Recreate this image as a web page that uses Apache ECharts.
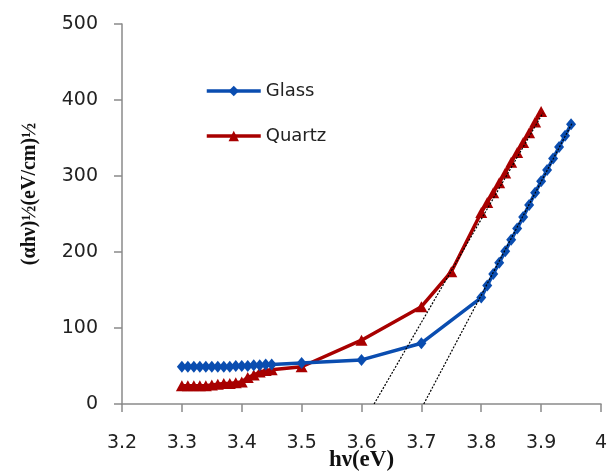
<!DOCTYPE html>
<html><head><meta charset="utf-8">
<script src="https://cdn.jsdelivr.net/npm/echarts@6/dist/echarts.min.js"></script>
<style>html,body{margin:0;padding:0;background:#fff}#c{width:608px;height:471px}</style>
</head><body><div id="c"></div>
<script>
const glassX = [3.30,3.31,3.32,3.33,3.34,3.35,3.36,3.37,3.38,3.39,3.40,3.41,3.42,3.43,3.44,3.45,3.50,3.60,3.70,3.80,3.81,3.82,3.83,3.84,3.85,3.86,3.87,3.88,3.89,3.90,3.91,3.92,3.93,3.94,3.95];
const glassY = [49,49,49,49,49,49,49,49,49,50,50,50,51,51,52,52,54,58,80,140,156,171,186,201,216,231,246,262,278,293,308,323,338,353,368];
const quartzX = [3.30,3.31,3.32,3.33,3.34,3.35,3.36,3.37,3.38,3.39,3.40,3.41,3.42,3.43,3.44,3.45,3.50,3.60,3.70,3.75,3.80,3.81,3.82,3.83,3.84,3.85,3.86,3.87,3.88,3.89,3.90];
const quartzY = [24,24,24,24,24,25,26,27,27,28,29,35,38,42,44,45,49,84,128,174,252,265,278,291,304,318,331,344,357,371,385];
const tangentGlass = [[3.704,0],[3.952,370]];
const tangentQuartz = [[3.621,0],[3.903,383]];
const xTicks = {min:3.2, max:4, step:0.1};
const yTicks = {min:0, max:500, step:100};

const zip = (a,b)=>a.map((v,i)=>[v,b[i]]);
const chart = echarts.init(document.getElementById('c'));
const axisCol = '#8a8a8a';
chart.setOption({
  animation:false,
  grid:{left:122,right:7,top:24,bottom:67,containLabel:false,outerBoundsMode:'none'},
  legend:{
    orient:'vertical', left:200, top:77, itemGap:27, itemWidth:54, itemHeight:13,
    lineStyle:{width:3.5},
    textStyle:{fontFamily:'DejaVu Sans', fontSize:18, color:'#222'},
    data:['Glass','Quartz']
  },
  xAxis:{type:'value', min:xTicks.min, max:xTicks.max, interval:xTicks.step,
    axisLine:{lineStyle:{color:axisCol,width:1.5}},
    axisTick:{inside:false,length:8,lineStyle:{color:axisCol,width:1.5}},
    splitLine:{show:false},
    axisLabel:{margin:30,fontFamily:'DejaVu Sans',fontSize:19,color:'#222',
      formatter:v=>String(+v.toFixed(1))},
    name:'hν(eV)', nameLocation:'middle', nameGap:45, nameMoveOverlap:false,
    nameTextStyle:{fontFamily:'Liberation Serif',fontWeight:'bold',fontSize:23,color:'#111'}
  },
  yAxis:{type:'value', min:yTicks.min, max:yTicks.max, interval:yTicks.step,
    axisLine:{show:true,lineStyle:{color:axisCol,width:1.5}},
    axisTick:{show:true,length:8,lineStyle:{color:axisCol,width:1.5}},
    splitLine:{show:false},
    axisLabel:{margin:24,fontFamily:'DejaVu Sans',fontSize:19,color:'#222'}
  },
  graphic:[{type:'text', x:30, y:194, rotation:Math.PI/2,
    style:{text:'(αhν)½(eV/cm)½', font:'bold 20px "Liberation Serif"', fill:'#111',
      textAlign:'center', textVerticalAlign:'middle'}}],
  series:[
    {name:'tg', type:'line', data:tangentGlass, symbol:'none', silent:true,
      lineStyle:{color:'#000',width:1.2,type:[2,1.5]}, z:5},
    {name:'tq', type:'line', data:tangentQuartz, symbol:'none', silent:true,
      lineStyle:{color:'#000',width:1.2,type:[2,1.5]}, z:5},
    {name:'Glass', type:'line', data:zip(glassX,glassY), symbol:'diamond', symbolSize:[10,12],
      itemStyle:{color:'#0a4db0'}, lineStyle:{color:'#0a4db0',width:3.5}, z:3},
    {name:'Quartz', type:'line', data:zip(quartzX,quartzY), symbol:'triangle', symbolSize:[12,11],
      itemStyle:{color:'#a80000'}, lineStyle:{color:'#a80000',width:3.5}, z:2}
  ]
});
</script></body></html>
